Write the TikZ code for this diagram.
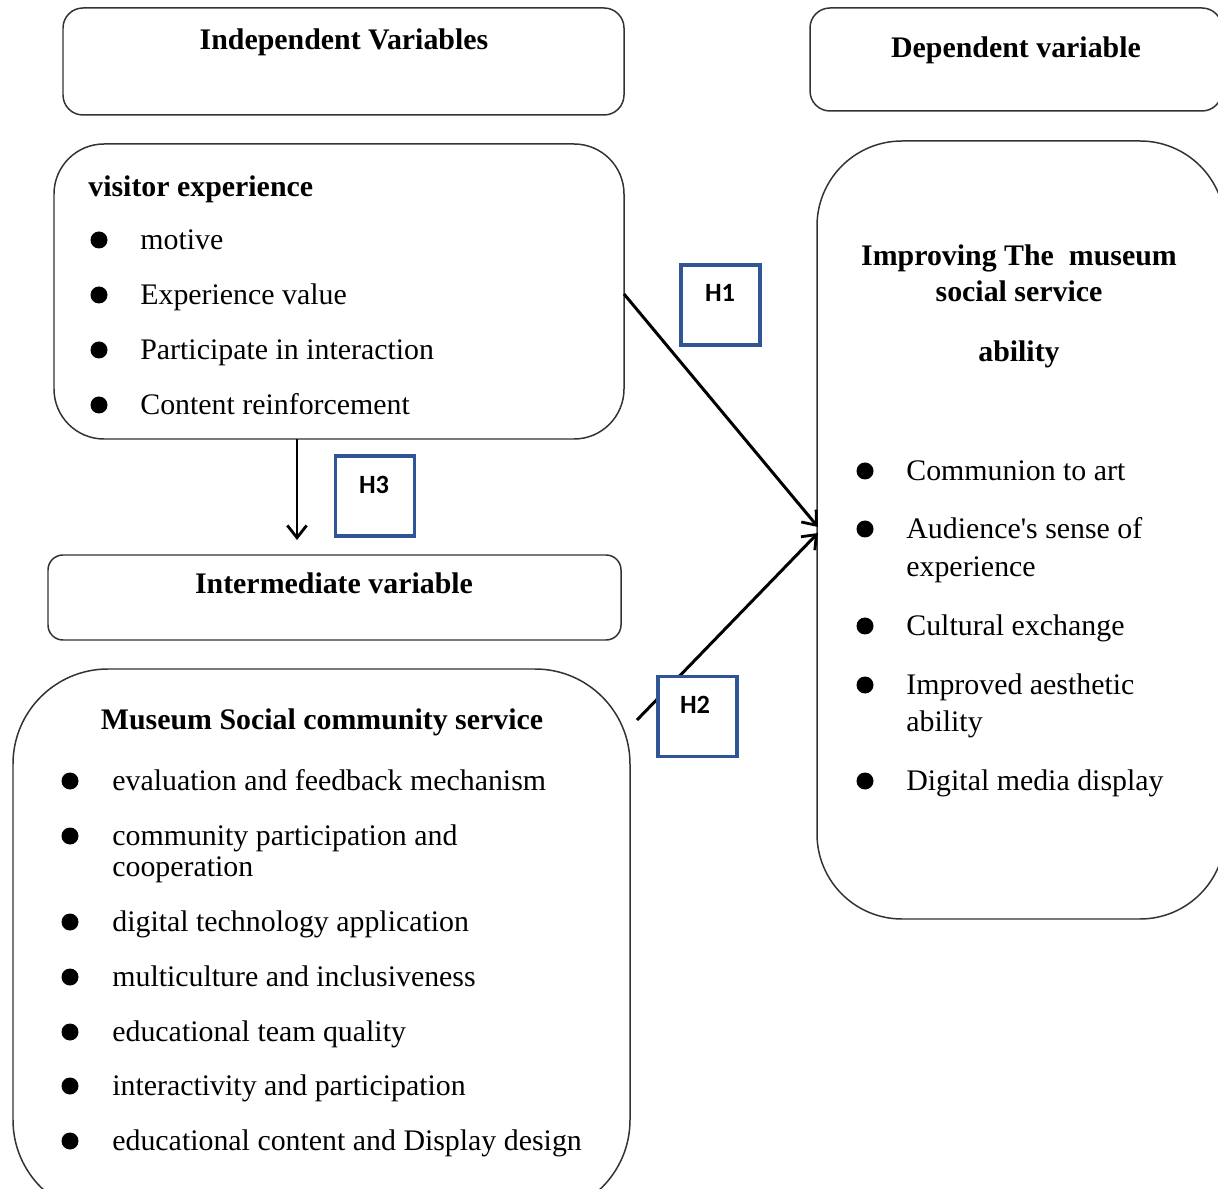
\documentclass[tikz,border=0pt]{standalone}
\usepackage{fontspec}
\setmainfont{Liberation Serif}
\newfontfamily\hfont{Carlito}
\usetikzlibrary{arrows.meta}
\definecolor{hblue}{RGB}{47,85,151}
\begin{document}
\begin{tikzpicture}[x=0.02cm,y=-0.02cm,
  box/.style={draw=black!80, line width=0.85pt, inner sep=0pt, outer sep=0pt},
  hbox/.style={draw=hblue, line width=2.2pt, fill=white, minimum width=79*0.02cm, minimum height=80*0.02cm, inner sep=0pt},
  hlabel/.style={font=\hfont\bfseries\fontsize{15}{18}\selectfont, inner sep=0pt, anchor=mid, yshift=-0.08cm},
  txt/.style={font=\fontsize{17}{20}\selectfont, inner sep=0pt, anchor=mid west, yshift=-0.1cm},
  ttl/.style={font=\bfseries\fontsize{17}{20}\selectfont, inner sep=0pt, anchor=mid, yshift=-0.1cm},
  bul/.style={circle, fill=black, inner sep=0pt, minimum size=17*0.02cm},
  conn/.style={line width=1.7pt, -{Straight Barb[length=7pt,width=11pt,line width=1.6pt]}}
]
\useasboundingbox (0,0) rectangle (1218,1189);
\clip (0,0) rectangle (1218,1189);

% header boxes
\node[box, rounded corners=20*0.02cm, minimum width=561*0.02cm, minimum height=107*0.02cm] (indep) at (343.5,61.5) {};
\node[ttl] (indept) at (344,40) {Independent Variables};
\node[box, rounded corners=20*0.02cm, minimum width=412*0.02cm, minimum height=103*0.02cm] (depv) at (1016,59.5) {};
\node[ttl] (depvt) at (1016,48) {Dependent variable};

% visitor experience
\node[box, rounded corners=50*0.02cm, minimum width=570*0.02cm, minimum height=295*0.02cm] (vis) at (339,291.5) {};
\node[ttl, anchor=mid west] (vist) at (88,187) {visitor experience};
\node[bul] (vb1) at (99,240) {}; \node[txt] (vt1) at (140,240) {motive};
\node[bul] (vb2) at (99,295) {}; \node[txt] (vt2) at (140,295) {Experience value};
\node[bul] (vb3) at (99,350) {}; \node[txt] (vt3) at (140,350) {Participate in interaction};
\node[bul] (vb4) at (99,405) {}; \node[txt] (vt4) at (140,405) {Content reinforcement};

% intermediate
\node[box, rounded corners=15*0.02cm, minimum width=573*0.02cm, minimum height=85*0.02cm] (inter) at (334.5,597.5) {};
\node[ttl] (intert) at (334,584) {Intermediate variable};

% museum social community service
\node[box, rounded corners=95*0.02cm, minimum width=617*0.02cm, minimum height=546*0.02cm] (mus) at (321.5,942) {};
\node[ttl] (must) at (322,720) {Museum Social community service};
\node[bul] (mb1) at (70,781) {}; \node[txt] (mt1) at (112,781) {evaluation and feedback mechanism};
\node[bul] (mb2) at (70,836) {}; \node[txt] (mt2) at (112,836) {community participation and};
\node[txt] (mt2b) at (112,867) {cooperation};
\node[bul] (mb3) at (70,922) {}; \node[txt] (mt3) at (112,922) {digital technology application};
\node[bul] (mb4) at (70,977) {}; \node[txt] (mt4) at (112,977) {multiculture and inclusiveness};
\node[bul] (mb5) at (70,1032) {}; \node[txt] (mt5) at (112,1032) {educational team quality};
\node[bul] (mb6) at (70,1086) {}; \node[txt] (mt6) at (112,1086) {interactivity and participation};
\node[bul] (mb7) at (70,1141) {}; \node[txt] (mt7) at (112,1141) {educational content and Display design};

% dependent
\node[box, rounded corners=85*0.02cm, minimum width=408*0.02cm, minimum height=778*0.02cm] (dep) at (1021,530) {};
\node[ttl] (dept1) at (1019,256) {Improving The\ \ museum};
\node[ttl] (dept2) at (1019,292) {social service};
\node[ttl] (dept3) at (1019,352) {ability};
\node[bul] (db1) at (865,471) {}; \node[txt] (dt1) at (906,471) {Communion to art};
\node[bul] (db2) at (865,529) {}; \node[txt] (dt2) at (906,529) {Audience\textquotesingle s sense of};
\node[txt] (dt2b) at (906,567) {experience};
\node[bul] (db3) at (865,626) {}; \node[txt] (dt3) at (906,626) {Cultural exchange};
\node[bul] (db4) at (865,685) {}; \node[txt] (dt4) at (906,685) {Improved aesthetic};
\node[txt] (dt4b) at (906,722) {ability};
\node[bul] (db5) at (865,781) {}; \node[txt] (dt5) at (906,781) {Digital media display};

% connector end points
\coordinate (h1s) at (624,294);
\coordinate (h1e) at (818,527);
\coordinate (h2s) at (637,720);
\coordinate (h2e) at (818,533);
\coordinate (h3s) at (297,439);
\coordinate (h3e) at (297,540);

\draw[conn] (h1s) -- (h1e);
\draw[conn] (h2s) -- (h2e);
\draw[conn] (h3s) -- (h3e);

% hypothesis boxes
\node[hbox] (h1) at (720.5,305) {};
\node[hlabel] (h1t) at (720,293) {H1};
\node[hbox] (h2) at (697.5,716.5) {};
\node[hlabel] (h2t) at (695,705) {H2};
\node[hbox] (h3) at (375,496) {};
\node[hlabel] (h3t) at (374,485) {H3};
\end{tikzpicture}
\end{document}
